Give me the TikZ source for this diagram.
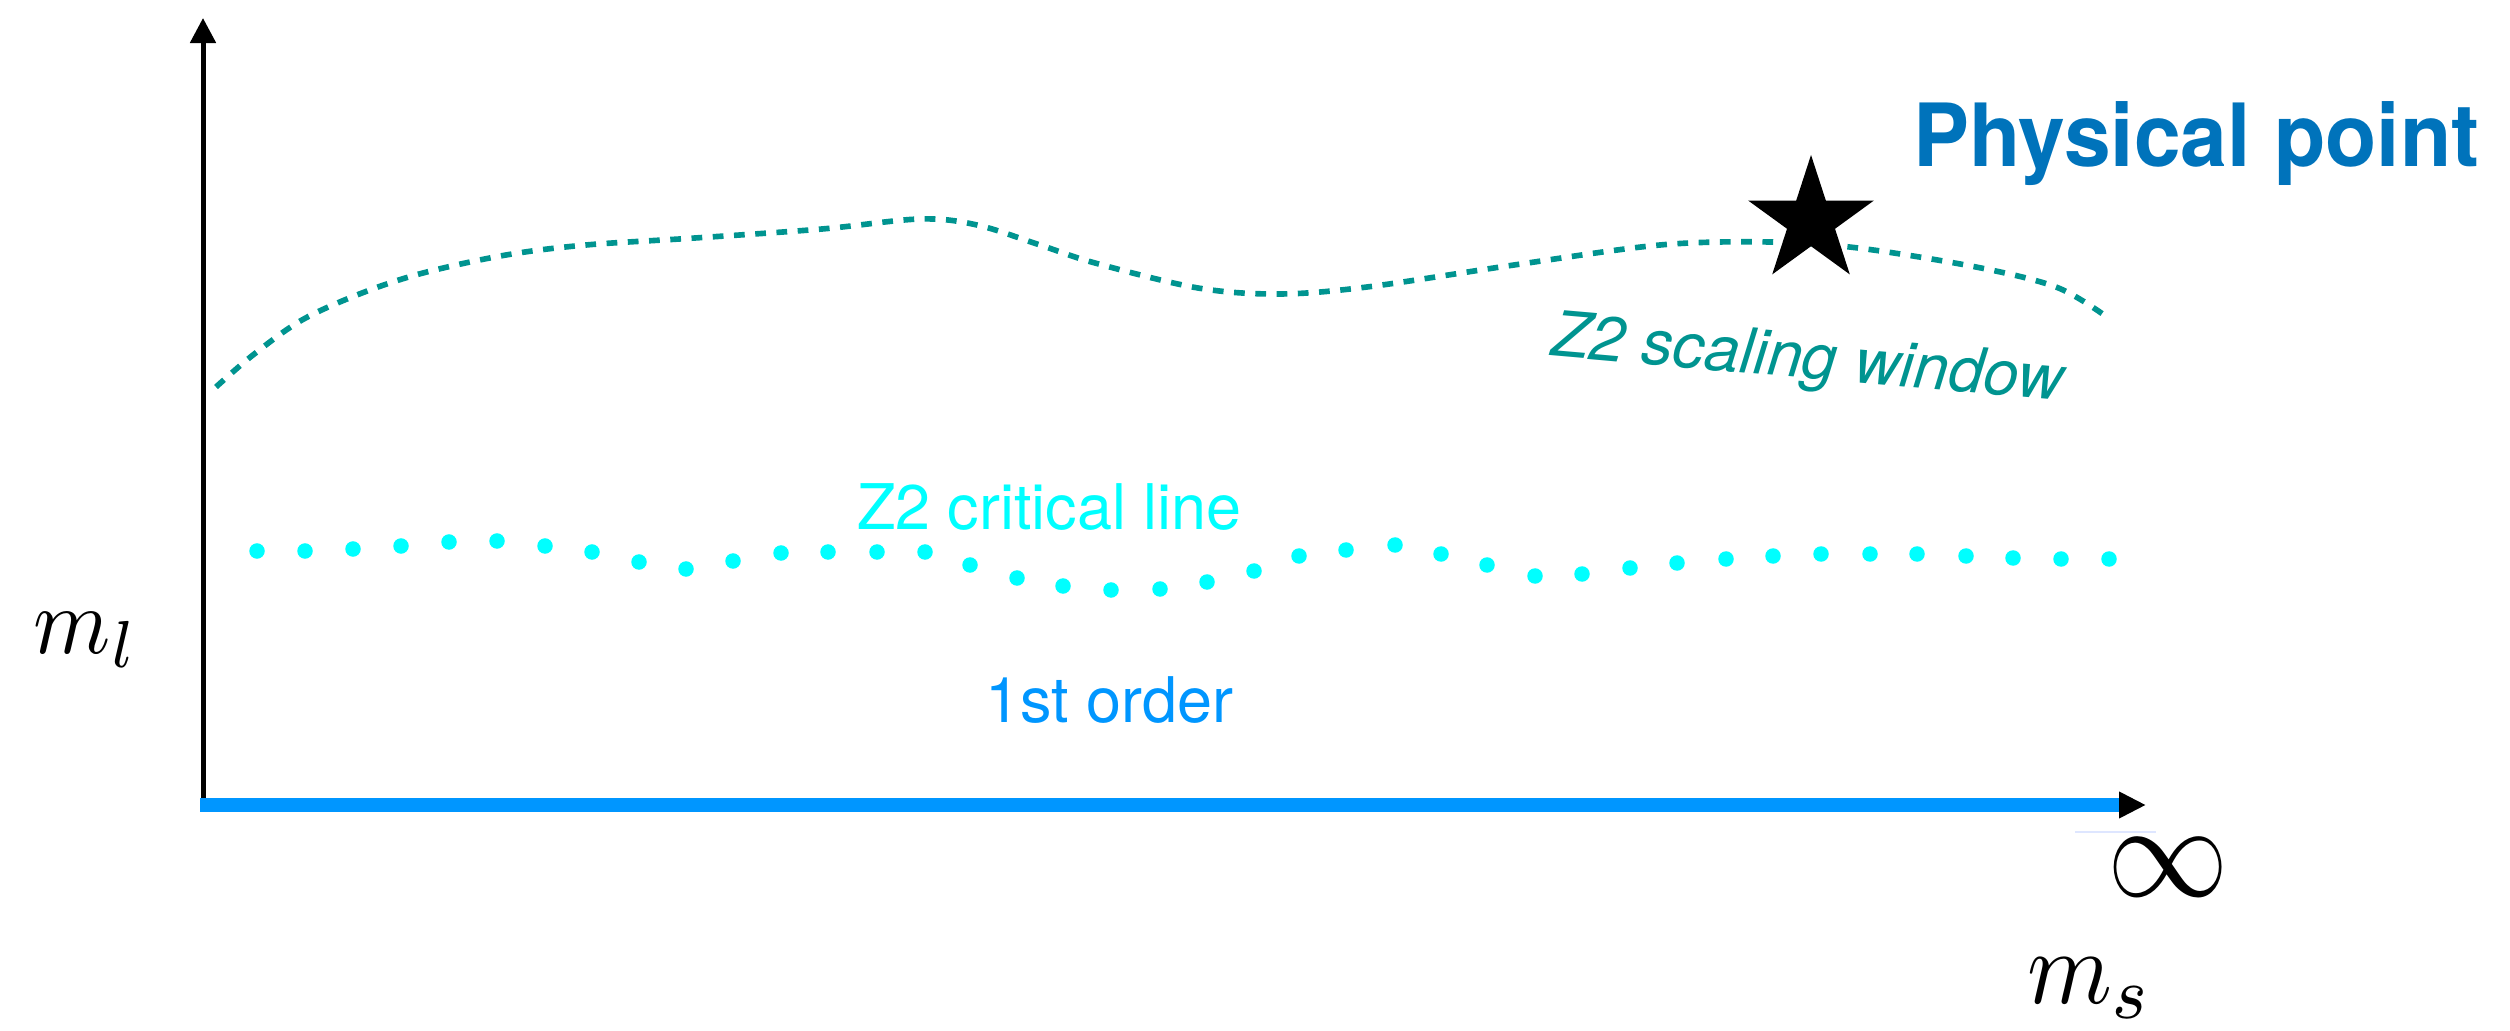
\documentclass[tikz,border=0pt]{standalone}
\usepackage{fontspec}
\newfontfamily\hel{TeX Gyre Heros}
\usetikzlibrary{arrows.meta,shapes.geometric}
\definecolor{axisblue}{RGB}{0,150,255}
\definecolor{physblue}{RGB}{0,115,187}
\definecolor{zteal}{RGB}{0,148,144}
\definecolor{zcyan}{RGB}{0,255,255}
\definecolor{faint}{RGB}{222,230,255}
\begin{document}
\begin{tikzpicture}[x=0.01cm,y=-0.01cm,
  lbl/.style={inner sep=0pt,outer sep=0pt,anchor=base west},
  smalltext/.style={font={\hel\fontsize{17.9pt}{21pt}\selectfont}},
  dot/.style={circle,fill=zcyan,draw=none,inner sep=0pt,minimum size=0.155cm},
  zdash/.style={zteal,line width=1.6pt,dash pattern=on 3.05pt off 3.0pt}]
\useasboundingbox (0,0) rectangle (2510,1031);
% axes
\coordinate (O) at (203,805);
\coordinate (ytip) at (203,18);
\coordinate (xstart) at (200,805);
\coordinate (xtip) at (2146,805);
\draw[line width=1.42pt,-{Triangle[length=0.25cm,width=0.25cm]}] (O) -- (ytip);
\draw[axisblue,line width=3.7pt,-{Triangle[length=0.27cm,width=0.25cm,color=black]}] (xstart) -- (xtip);
\coordinate (fa) at (2075,832);
\coordinate (fb) at (2156,832);
\draw[faint,line width=0.5pt] (fa) -- (fb);
% Z2 scaling window curve
\draw[zdash] plot[smooth,tension=0.55] coordinates {(216,387) (253,355) (302,320) (362,293) (423,273) (506,255) (586,245) (695,238) (822,229) (920,219) (977,225) (1040,245) (1095,263) (1198,288) (1279,294) (1367,287) (1514,265) (1660,245) (1770,242) (1858,248) (1976,267) (2056,287) (2104,315)};
% critical line dots
\foreach \px/\py [count=\i] in {257/551,305/551,353/549,401/546,449/542,497/541,545/546,592/552,639/562,686/569,733/561,781/553,828/552,877/552,925/552,970/565,1017/578,1063/586,1111/590,1160/589,1207/582,1254/571,1299/556,1346/550,1395/545,1441/554,1487/565,1535/576,1582/574,1630/568,1677/563,1726/559,1773/556,1821/554,1870/554,1917/554,1966/556,2013/558,2061/559,2109/559}
  \node[dot] (d\i) at (\px,\py) {};
% star
\node[star,star points=5,star point ratio=2.618,fill=black,draw=none,inner sep=0pt,minimum size=1.32cm] (phys) at (1811,221) {};
% texts
\node[lbl,text=physblue,font={\hel\bfseries\fontsize{24.8pt}{28pt}\selectfont}] (pp) at (1913,167) {\scalebox{0.963}[1]{Physical point}};
\node[lbl,smalltext,text=zteal,rotate=-5] (sw) at (1550,356) {\itshape Z2 scaling window};
\node[lbl,smalltext,text=zcyan] (cl) at (857,530) {Z2 critical line};
\node[lbl,smalltext,text=axisblue] (fo) at (985,722) {1st order};
\node[lbl] (ml) at (34,653) {\scalebox{2.5}[2.7]{$m_l$}};
\node[lbl] (ms) at (2027,1003) {\scalebox{2.75}[3.0]{$m_s$}};
\node[lbl] (inf) at (2107,896) {\scalebox{3.45}[3.85]{$\infty$}};
\end{tikzpicture}
\end{document}
